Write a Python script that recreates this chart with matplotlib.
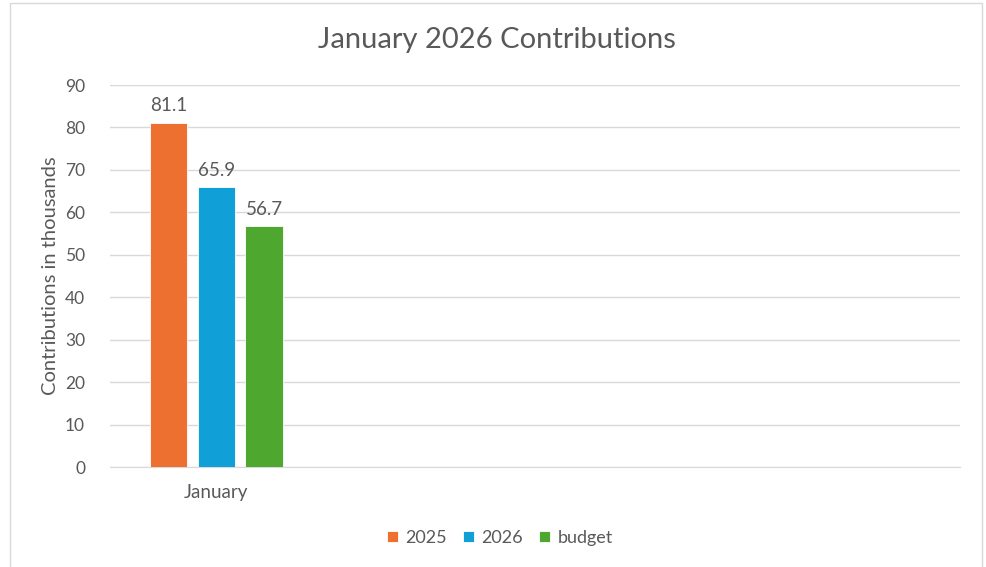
import numpy as np
import matplotlib.pyplot as plt
from matplotlib.patches import Rectangle

categories = ['January', '', '', '']
series_names = ['2025', '2026', 'budget']
values_2025 = [81.1, np.nan, np.nan, np.nan]
values_2026 = [65.9, np.nan, np.nan, np.nan]
values_budget = [56.7, np.nan, np.nan, np.nan]
colors = ['#ED7031', '#109FD7', '#4EA72E']

plt.rcParams['font.family'] = ['Lato', 'DejaVu Sans']
text_color = '#595959'

fig = plt.figure(figsize=(9.87, 5.67), dpi=100)
ax = fig.add_axes([110 / 987, 100 / 567, 850 / 987, 382 / 567])

x = np.arange(len(categories))
width = 0.176
offset = 0.2247
for i, (name, vals) in enumerate(zip(series_names, [values_2025, values_2026, values_budget])):
    pos = x + (i - 1) * offset
    ax.bar(pos, vals, width, color=colors[i], edgecolor='white', linewidth=0.6,
           label=name, zorder=3)
    for p, v in zip(pos, vals):
        if not np.isnan(v):
            ax.text(p, v + 2.0, '%.1f' % v, ha='center', va='bottom',
                    fontsize=13.5, color=text_color)

ax.set_xlim(-0.5, len(categories) - 0.5)
ax.set_ylim(0, 90)
ax.set_yticks(range(0, 91, 10))
ax.set_xticks(x)
ax.set_xticklabels(categories)
ax.yaxis.grid(True, color='#D9D9D9', linewidth=1, zorder=0)
ax.tick_params(axis='both', length=0, labelsize=12.5, colors=text_color)
ax.tick_params(axis='x', labelsize=13.5, pad=12)
ax.tick_params(axis='y', pad=18)
for s in ['top', 'right', 'left']:
    ax.spines[s].set_visible(False)
ax.spines['bottom'].set_color('#D9D9D9')

ax.set_ylabel('Contributions in thousands', fontsize=14.5, color=text_color, labelpad=4)
fig.text(497 / 987, 1 - 40 / 567, 'January 2026 Contributions', ha='center', va='center',
         fontsize=21, color=text_color)

fig.legend(loc='center', bbox_to_anchor=(500 / 987, 1 - 538 / 567), ncol=3, frameon=False,
           fontsize=13, handlelength=0.6, handleheight=0.6, handletextpad=0.4,
           columnspacing=0.9, labelcolor=text_color)

fig.patches.append(Rectangle((10 / 987, -0.05), 972 / 987, 1 - 3 / 567 + 0.05,
                             transform=fig.transFigure, fill=False,
                             edgecolor='#D9D9D9', linewidth=1))

fig.savefig('out.png', dpi=100)
